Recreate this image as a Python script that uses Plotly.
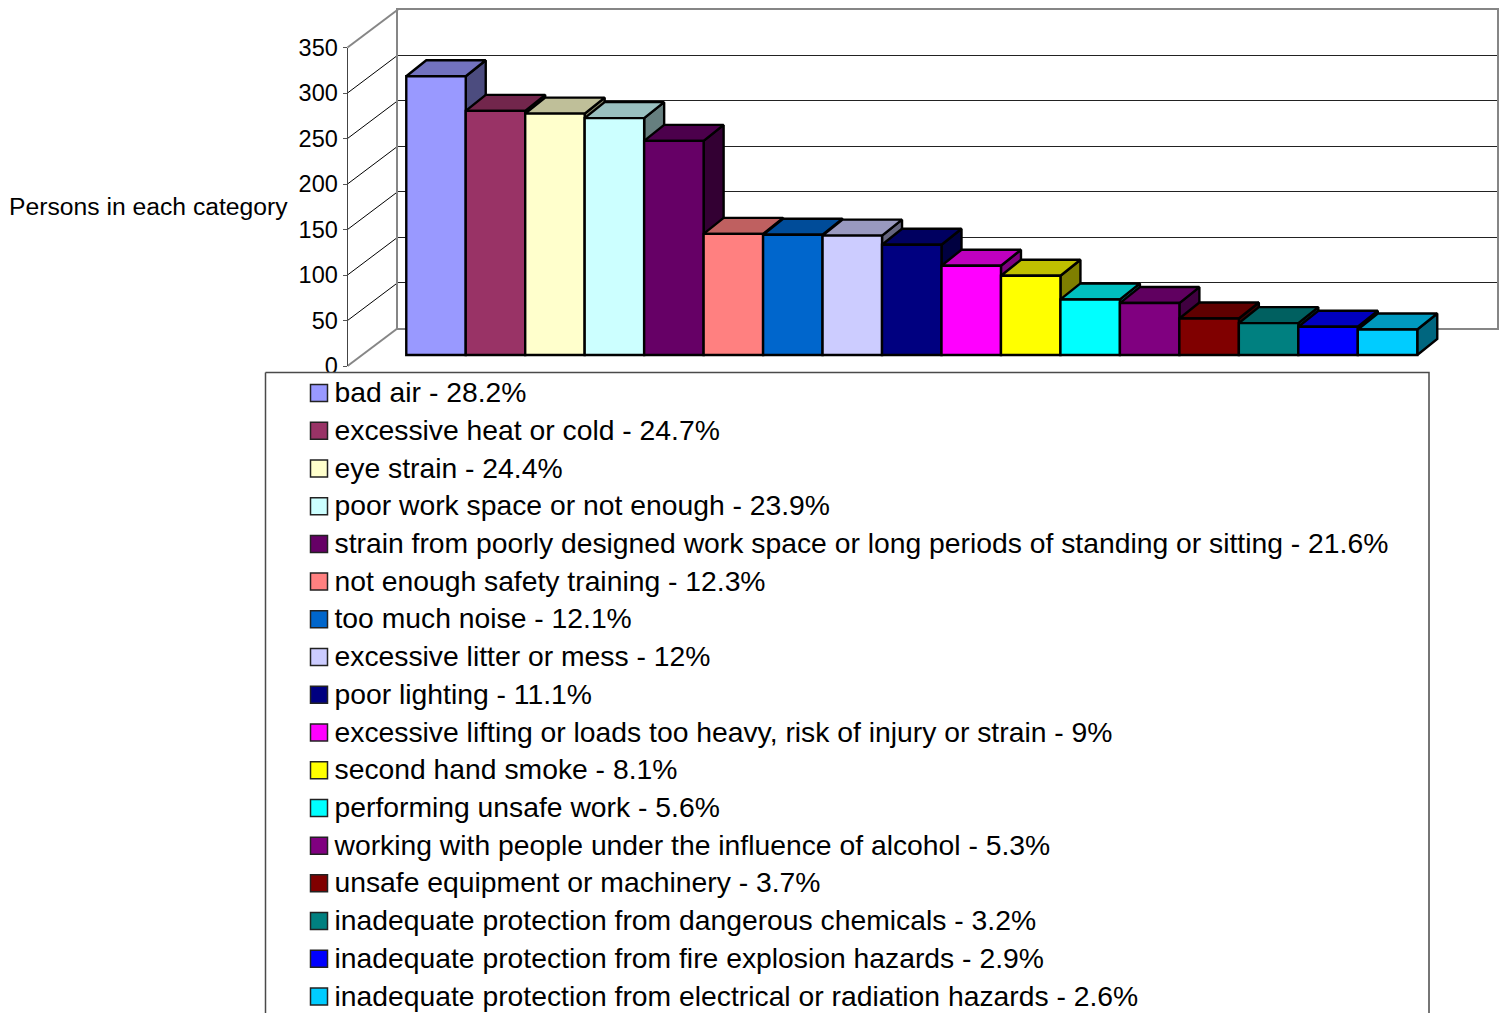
import plotly.graph_objects as go

# ---- data ----
categories = ["bad air", "excessive heat or cold", "eye strain", "poor work space or not enough",
              "strain from poorly designed work space or long periods of standing or sitting",
              "not enough safety training", "too much noise", "excessive litter or mess", "poor lighting",
              "excessive lifting or loads too heavy, risk of injury or strain", "second hand smoke",
              "performing unsafe work", "working with people under the influence of alcohol",
              "unsafe equipment or machinery", "inadequate protection from dangerous chemicals",
              "inadequate protection from fire explosion hazards",
              "inadequate protection from electrical or radiation hazards"]
percent_labels = ["28.2", "24.7", "24.4", "23.9", "21.6", "12.3", "12.1", "12", "11.1", "9", "8.1",
                  "5.6", "5.3", "3.7", "3.2", "2.9", "2.6"]
persons = [306, 268, 265, 260, 235, 133, 132, 131, 121, 98, 87, 61, 57, 40, 35, 31, 28]
colors = ["#9999FF", "#993366", "#FFFFCC", "#CCFFFF", "#660066", "#FF8080", "#0066CC", "#CCCCFF", "#000080",
          "#FF00FF", "#FFFF00", "#00FFFF", "#800080", "#800000", "#008080", "#0000FF", "#00CCFF"]
axis_ticks = [0, 50, 100, 150, 200, 250, 300, 350]

# ---- layout geometry (pixels of the 1501x1013 page) ----
W, H = 1501, 1013
BAR_W, BAR_C0 = 59.47, 436.0
BASE_PX, PX_PER_UNIT = 355.0, 0.911
DEPTH_X, DEPTH_Y = 20 / BAR_W, 16 / PX_PER_UNIT
FRONT_X, BACK_X, RIGHT_X = 347.5, 398.0, 1496.5
FRONT_0, FRONT_350 = 366.0, 47.5
BACK_0, BACK_350 = 328.0, 9.5
LEG_Y0, LEG_DY, LEG_TEXT_DY = 393.0, 37.72, 2.0
FONT = "Liberation Sans"
GREY = "#868686"


def shade(hex_color, f):
    r, g, b = (int(hex_color[i:i + 2], 16) for i in (1, 3, 5))
    return f"rgb({int(r * f)},{int(g * f)},{int(b * f)})"


def px(x):
    return x / W


def py(y):
    return 1 - y / H


fig = go.Figure()

# back wall: its own axes, with real gridlines
fig.add_trace(go.Scatter(x=[0], y=[0], xaxis="x", yaxis="y", mode="markers", marker=dict(opacity=0),
                         hoverinfo="skip", showlegend=False))
# front value axis
fig.add_trace(go.Scatter(x=[0], y=[0], xaxis="x2", yaxis="y2", mode="markers", marker=dict(opacity=0),
                         hoverinfo="skip", showlegend=False))

# side and top faces of each column, left to right
for i, (v, c) in enumerate(zip(persons, colors)):
    l, r = i - 0.5, i + 0.5
    fig.add_trace(go.Scatter(x=[r, r + DEPTH_X, r + DEPTH_X, r, r], y=[0, DEPTH_Y, v + DEPTH_Y, v, 0],
                             xaxis="x3", yaxis="y3", mode="lines", fill="toself", fillcolor=shade(c, 0.5),
                             line=dict(color="black", width=2.4), hoverinfo="skip", showlegend=False))
    fig.add_trace(go.Scatter(x=[l, l + DEPTH_X, r + DEPTH_X, r, l], y=[v, v + DEPTH_Y, v + DEPTH_Y, v, v],
                             xaxis="x3", yaxis="y3", mode="lines", fill="toself", fillcolor=shade(c, 0.75),
                             line=dict(color="black", width=2.4), hoverinfo="skip", showlegend=False))

# front faces
fig.add_trace(go.Bar(x=list(range(len(persons))), y=persons, width=1, xaxis="x4", yaxis="y4",
                     marker=dict(color=colors, line=dict(color="black", width=2.4)),
                     hovertext=categories, showlegend=False))

# legend panel, drawn as the topmost subplot so that it hides the foot of the "0"
fig.add_trace(go.Scatter(x=[265.5, 1429, 1429, 265.5, 265.5], y=[372.5, 372.5, 1040, 1040, 372.5],
                         xaxis="x5", yaxis="y5", mode="lines", fill="toself", fillcolor="white",
                         line=dict(color="#4a4a4a", width=1.5), hoverinfo="skip", showlegend=False))
leg_y = [LEG_Y0 + LEG_DY * i for i in range(len(categories))]
fig.add_trace(go.Scatter(x=[319] * len(categories), y=leg_y, xaxis="x5", yaxis="y5", mode="markers",
                         marker=dict(symbol="square", size=17, color=colors, line=dict(color="#222222", width=1.5)),
                         hoverinfo="skip", showlegend=False))
fig.add_trace(go.Scatter(x=[334.5] * len(categories), y=[v + LEG_TEXT_DY for v in leg_y], xaxis="x5", yaxis="y5",
                         mode="text", text=[f"{c} - {p}%" for c, p in zip(categories, percent_labels)],
                         textposition="middle right", textfont=dict(family=FONT, size=28.3, color="black"),
                         hoverinfo="skip", showlegend=False))

hidden = dict(visible=False, fixedrange=True)
col_range = [(0 - BAR_C0) / BAR_W, (W - BAR_C0) / BAR_W]
val_range = [(BASE_PX - H) / PX_PER_UNIT, BASE_PX / PX_PER_UNIT]

shapes = []
for t in axis_ticks:
    y_f = FRONT_0 + (FRONT_350 - FRONT_0) * t / 350
    y_b = BACK_0 + (BACK_350 - BACK_0) * t / 350
    edge = t in (0, 350)
    shapes.append(dict(type="line", xref="paper", yref="paper", x0=px(FRONT_X), x1=px(BACK_X), y0=py(y_f), y1=py(y_b),
                       line=dict(color=GREY if edge else "black", width=2 if edge else 1), layer="below"))

fig.update_layout(
    width=W, height=H, autosize=False, margin=dict(l=0, r=0, t=0, b=0, pad=0, autoexpand=False),
    paper_bgcolor="white", plot_bgcolor="rgba(0,0,0,0)", showlegend=False, barmode="overlay",
    font=dict(family=FONT, color="black"), shapes=shapes,
    xaxis=dict(domain=[px(BACK_X), px(RIGHT_X)], range=[0, 1], showticklabels=False, ticks="", showgrid=False,
               zeroline=False, showline=True, mirror=True, linecolor=GREY, linewidth=2, fixedrange=True, anchor="y"),
    yaxis=dict(domain=[py(BACK_0), py(BACK_350)], range=[0, 350], dtick=50, showticklabels=False, ticks="",
               showgrid=True, gridcolor="#222222", gridwidth=1, zeroline=False, showline=True, mirror=True,
               linecolor=GREY, linewidth=2, fixedrange=True, anchor="x"),
    xaxis2=dict(hidden, domain=[px(FRONT_X), px(BACK_X)], range=[0, 1], anchor="y2"),
    yaxis2=dict(domain=[py(FRONT_0), py(FRONT_350)], range=[0, 350], tickvals=axis_ticks, ticks="outside", ticklen=4,
                tickcolor="#555555", tickwidth=1, tickfont=dict(family=FONT, size=23.5, color="black"),
                showgrid=False, zeroline=False, showline=True, linecolor="#444444", linewidth=1, side="left",
                anchor="x2", fixedrange=True, layer="below traces"),
    xaxis3=dict(hidden, domain=[0, 1], range=col_range, anchor="y3"),
    yaxis3=dict(hidden, domain=[0, 1], range=val_range, anchor="x3"),
    xaxis4=dict(hidden, domain=[0, 1], range=col_range, anchor="y4"),
    yaxis4=dict(hidden, domain=[0, 1], range=val_range, anchor="x4"),
    xaxis5=dict(hidden, domain=[0, 1], range=[0, W], anchor="y5"),
    yaxis5=dict(hidden, domain=[0, 1], range=[H, 0], anchor="x5"),
    annotations=[dict(text="Persons in each category", xref="paper", yref="paper", x=px(6.5), y=py(206),
                      xanchor="left", yanchor="middle", showarrow=False,
                      font=dict(family=FONT, size=24.7, color="black"))],
)

fig.write_html("out.html", config=dict(displayModeBar=False),
               post_script="document.body.style.margin='0';document.documentElement.style.overflow='hidden';")
